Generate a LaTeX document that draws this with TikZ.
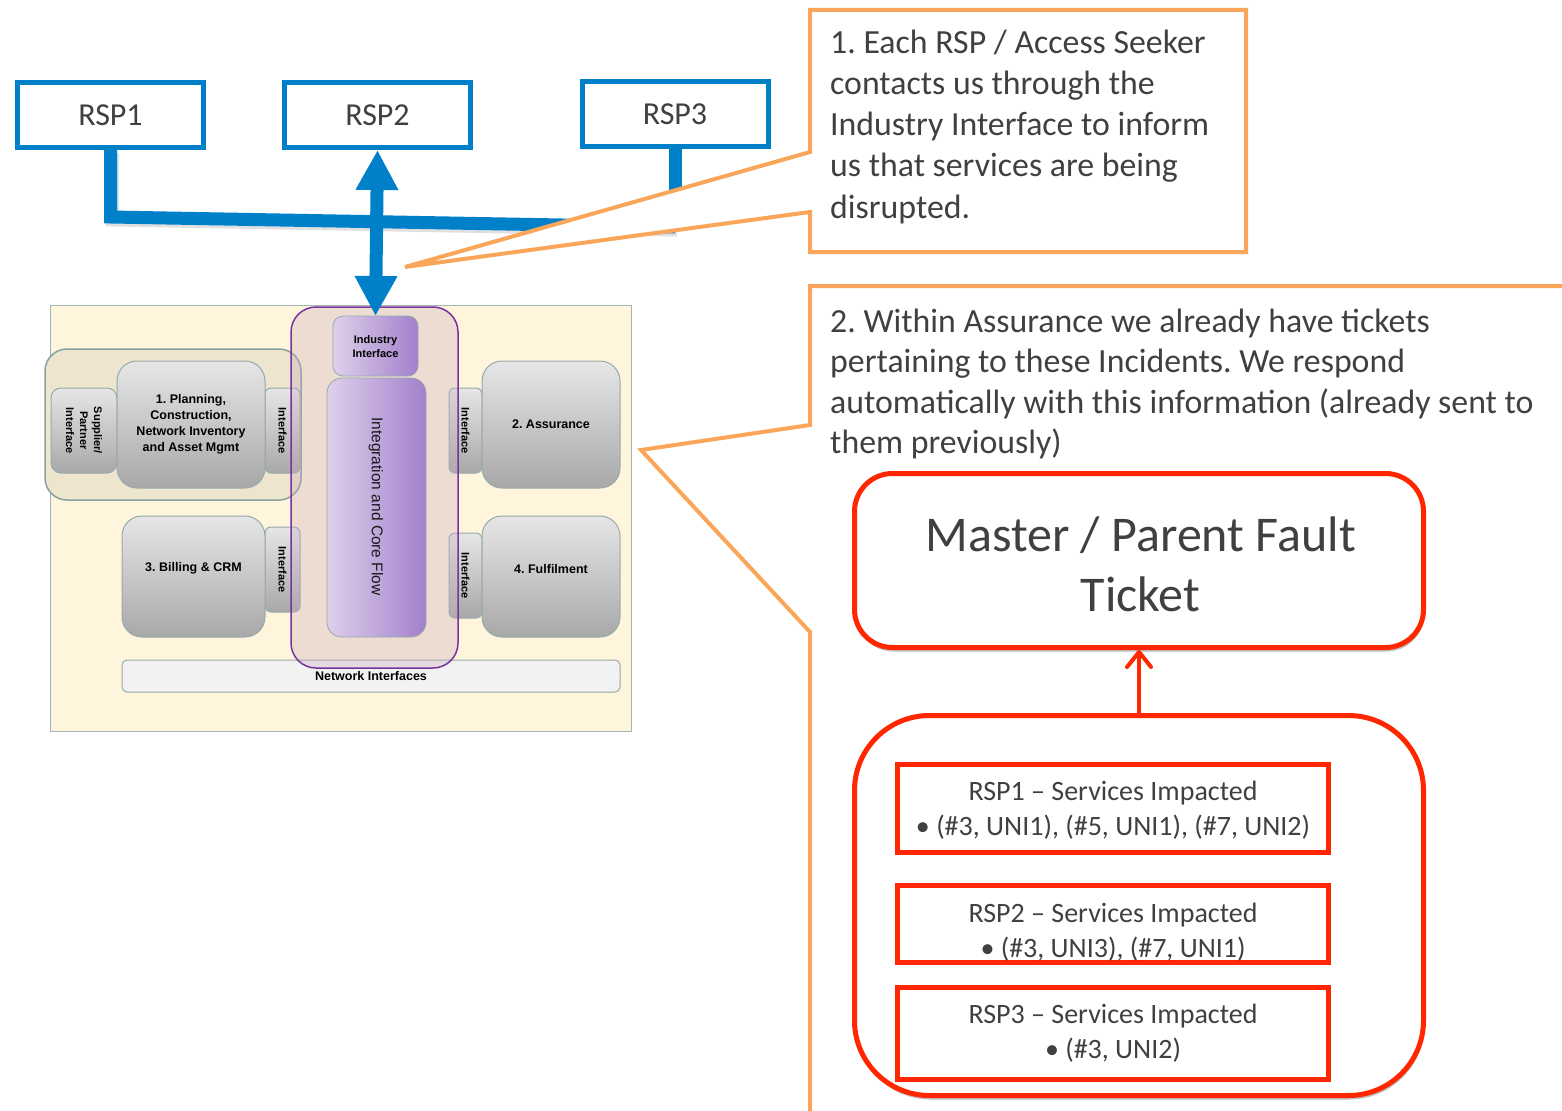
\documentclass[tikz,border=0pt]{standalone}
\usepackage{fontspec}
\setmainfont{Carlito}
\newfontfamily\arialfont{Liberation Sans}
\usetikzlibrary{arrows.meta,shadows}
\frenchspacing

\definecolor{rspblue}{RGB}{0,128,200}
\definecolor{calloutorange}{RGB}{249,166,90}
\definecolor{ticketred}{RGB}{255,38,0}
\definecolor{txtgray}{RGB}{64,64,64}
\definecolor{canvasyellow}{RGB}{255,245,220}
\definecolor{frameline}{RGB}{165,180,180}
\definecolor{groupfill}{RGB}{237,229,205}
\definecolor{grouplinecol}{RGB}{135,160,160}
\definecolor{boxtop}{RGB}{230,230,230}
\definecolor{boxbottom}{RGB}{168,168,168}
\definecolor{boxline}{RGB}{150,170,170}
\definecolor{corefill}{RGB}{200,170,190}
\definecolor{coreline}{RGB}{120,50,160}
\definecolor{lavleft}{RGB}{222,208,234}
\definecolor{lavright}{RGB}{162,128,204}
\definecolor{netfill}{RGB}{242,242,242}

\tikzset{
  rspbox/.style={draw=rspblue, line width=5pt, fill=white, inner sep=0pt,
    minimum width=186pt, minimum height=65pt, text=txtgray,
    font=\fontsize{32}{38}\selectfont},
  blueline/.style={draw=rspblue, line width=13pt, line join=miter},
  blueshade/.style={draw=black, opacity=0.12, line width=13pt, line join=miter},
  callout/.style={draw=calloutorange, line width=4pt},
  note/.style={text=txtgray, inner sep=0pt, font=\fontsize{33.8}{41}\selectfont},
  notetwo/.style={text=txtgray, inner sep=0pt, font=\fontsize{33.8}{40}\selectfont},
  block/.style={draw=boxline, line width=1pt, rounded corners=#1,
    top color=boxtop, bottom color=boxbottom, inner sep=0pt, outer sep=0pt},
  block/.default=18pt,
  lavbox/.style={draw=boxline, line width=0.8pt, rounded corners=#1,
    left color=lavleft, right color=lavright, inner sep=0pt, outer sep=0pt},
  lavbox/.default=12pt,
  lbl/.style={inner sep=0pt, align=center, text=black,
    font=\arialfont\bfseries\fontsize{12.5}{16}\selectfont},
  smalllbl/.style={inner sep=0pt, align=center, text=black,
    font=\arialfont\bfseries\fontsize{11}{14}\selectfont},
  ticketbox/.style={draw=ticketred, line width=5pt, fill=white, inner sep=0pt},
  softshadow/.style={drop shadow={shadow xshift=1pt, shadow yshift=-4pt,
    opacity=0.25, fill=black}},
  bigtxt/.style={text=txtgray, inner sep=0pt, font=\fontsize{50}{60}\selectfont},
  listtxt/.style={text=txtgray, inner sep=0pt, font=\fontsize{28}{35}\selectfont},
  redarrow/.style={draw=ticketred, line width=4pt,
    -{Straight Barb[length=15pt 0 0, width=24pt 0 0, round]}},
}

\begin{document}
\begin{tikzpicture}[x=1pt,y=-1pt]
\useasboundingbox (0,0) rectangle (1562,1110);
\clip (0,0) rectangle (1562,1110);

% ---------- service providers ----------
\node[rspbox] (rsp1) at (110.5,115) {RSP1};
\node[rspbox] (rsp2) at (377.5,115) {RSP2};
\node[rspbox] (rsp3) at (675,114) {RSP3};

% ---------- architecture overview ----------
\node[draw=frameline, line width=0.8pt, fill=canvasyellow, inner sep=0pt,
  minimum width=581pt, minimum height=426pt] (frame) at (340.5,518) {};
\node[draw=grouplinecol, line width=1.5pt, fill=groupfill, rounded corners=22pt,
  inner sep=0pt, minimum width=256pt, minimum height=151pt] (grp) at (173,424.5) {};

\node[block=10pt, minimum width=66pt, minimum height=85pt] (sup) at (84,430.5) {};
\node[block=6pt, minimum width=35pt, minimum height=85pt] (ifa) at (282.5,430.5) {};
\node[block=6pt, minimum width=33pt, minimum height=85pt] (ifb) at (465.5,430.5) {};
\node[block=6pt, minimum width=35pt, minimum height=85pt] (ifc) at (282.5,569.5) {};
\node[block=6pt, minimum width=33pt, minimum height=85pt] (ifd) at (465.5,575.5) {};

\node[block=20pt, minimum width=148pt, minimum height=127pt] (plan) at (191,424.5) {};
\node[block=20pt, minimum width=138pt, minimum height=127pt] (assur) at (551,424.5) {};
\node[block=20pt, minimum width=143pt, minimum height=121pt] (bill) at (193.5,576.5) {};
\node[block=20pt, minimum width=138pt, minimum height=121pt] (fulf) at (551,576.5) {};

\node[draw=boxline, line width=1pt, fill=netfill, rounded corners=5pt, inner sep=0pt,
  minimum width=498pt, minimum height=32pt] (net) at (371,676) {};

\node[draw=coreline, line width=1.5pt, fill=corefill, fill opacity=0.33,
  rounded corners=25pt, inner sep=0pt, minimum width=167pt, minimum height=361pt]
  (core) at (374.5,487.5) {};
\node[lavbox=10pt, minimum width=85pt, minimum height=60pt] (ind) at (375.5,346) {};
\node[lavbox=15pt, minimum width=99pt, minimum height=259pt] (integ) at (376.5,507.5) {};

% labels of the overview
\node[lbl] (plantxt) at (191,424) {1. Planning,\\Construction,\\Network Inventory\\and Asset Mgmt};
\node[lbl] (assurtxt) at (551,424) {2. Assurance};
\node[lbl] (billtxt) at (193.5,568) {3. Billing \& CRM};
\node[lbl] (fulftxt) at (551,569) {4. Fulfilment};
\node[smalllbl, rotate=-90] (suptxt) at (84,430.5) {Supplier/\\Partner\\Interface};
\node[smalllbl, rotate=-90] (ifatxt) at (ifa) {Interface};
\node[smalllbl, rotate=-90] (ifbtxt) at (ifb) {Interface};
\node[smalllbl, rotate=-90] (ifctxt) at (ifc) {Interface};
\node[smalllbl, rotate=-90] (ifdtxt) at (ifd) {Interface};
\node[smalllbl] (indtxt) at (375.5,347) {Industry\\Interface};
\node[inner sep=0pt, text={rgb,255:red,25;green,25;blue,25}, rotate=-90,
  font=\arialfont\fontsize{15.5}{18}\selectfont] (integtxt) at (376,506.5)
  {Integration and Core Flow};
\node[lbl] (nettxt) at (371,676) {Network Interfaces};

% ---------- RSP links ----------
\coordinate (barL) at (110.5,217);
\coordinate (barR) at (675,227);
\begin{scope}[transform canvas={xshift=2pt,yshift=-3pt}]
  \draw[blueshade] (rsp1.south) -- (barL) -- (barR);
\end{scope}
\draw[blueline] (rsp1.south) -- (barL) -- (barR);
\draw[blueline] (rsp3.south) -- (barR);
\draw[blueline, {Triangle[length=40pt 0 0, width=40pt 0 0]}-{Triangle[length=40pt 0 0, width=40pt 0 0]}]
  (rsp2.south) -- (ind.north);

% ---------- callout 1 ----------
\draw[callout, fill=white] (810,10) -- (1246,10) -- (1246,252) -- (810,252)
  -- (810,212) -- (405,267) -- (810,152) -- cycle;
\foreach \ln [count=\i] in {{1. Each RSP / Access Seeker},{contacts us through the},
    {Industry Interface to inform},{us that services are being},{disrupted.}}
  \node[note, anchor=base west] (noteA-\i) at (830,{13+41*\i}) {\ln};

% ---------- callout 2 ----------
\draw[callout] (1575,286) -- (810,286) -- (810,425) -- (641,450) -- (810,632) -- (810,1120);
\foreach \ln [count=\i] in {{2. Within Assurance we already have tickets},
    {pertaining to these Incidents. We respond},
    {automatically with this information (already sent to},
    {them previously)}}
  \node[notetwo, anchor=base west] (noteB-\i) at (830,{291.5+40.5*\i}) {\ln};

% ---------- tickets ----------
\node[ticketbox, softshadow, rounded corners=38pt, minimum width=569pt, minimum height=174pt]
  (master) at (1139,560.5) {};
\node[bigtxt, anchor=base] (mtxt1) at (1140.5,551) {Master / Parent Fault};
\node[bigtxt, anchor=base] (mtxt2) at (1140.5,611) {Ticket};

\node[ticketbox, softshadow, rounded corners=75pt, minimum width=569pt, minimum height=380pt]
  (child) at (1139,905.5) {};
\draw[redarrow] (child.north) -- (master.south);

\node[ticketbox, minimum width=431pt, minimum height=88pt] (r1) at (1113,808.5) {};
\node[ticketbox, minimum width=431pt, minimum height=77pt] (r2) at (1113,924) {};
\node[ticketbox, minimum width=431pt, minimum height=92pt] (r3) at (1113,1033.5) {};

\node[listtxt, anchor=base] (r1a) at (1113,800) {RSP1 – Services Impacted};
\node[listtxt, anchor=base] (r1b) at (1113,835) {• (\#3, UNI1), (\#5, UNI1), (\#7, UNI2)};
\node[listtxt, anchor=base] (r2a) at (1113,922) {RSP2 – Services Impacted};
\node[listtxt, anchor=base] (r2b) at (1113,957) {• (\#3, UNI3), (\#7, UNI1)};
\node[listtxt, anchor=base] (r3a) at (1113,1023) {RSP3 – Services Impacted};
\node[listtxt, anchor=base] (r3b) at (1113,1058) {• (\#3, UNI2)};
\end{tikzpicture}
\end{document}
